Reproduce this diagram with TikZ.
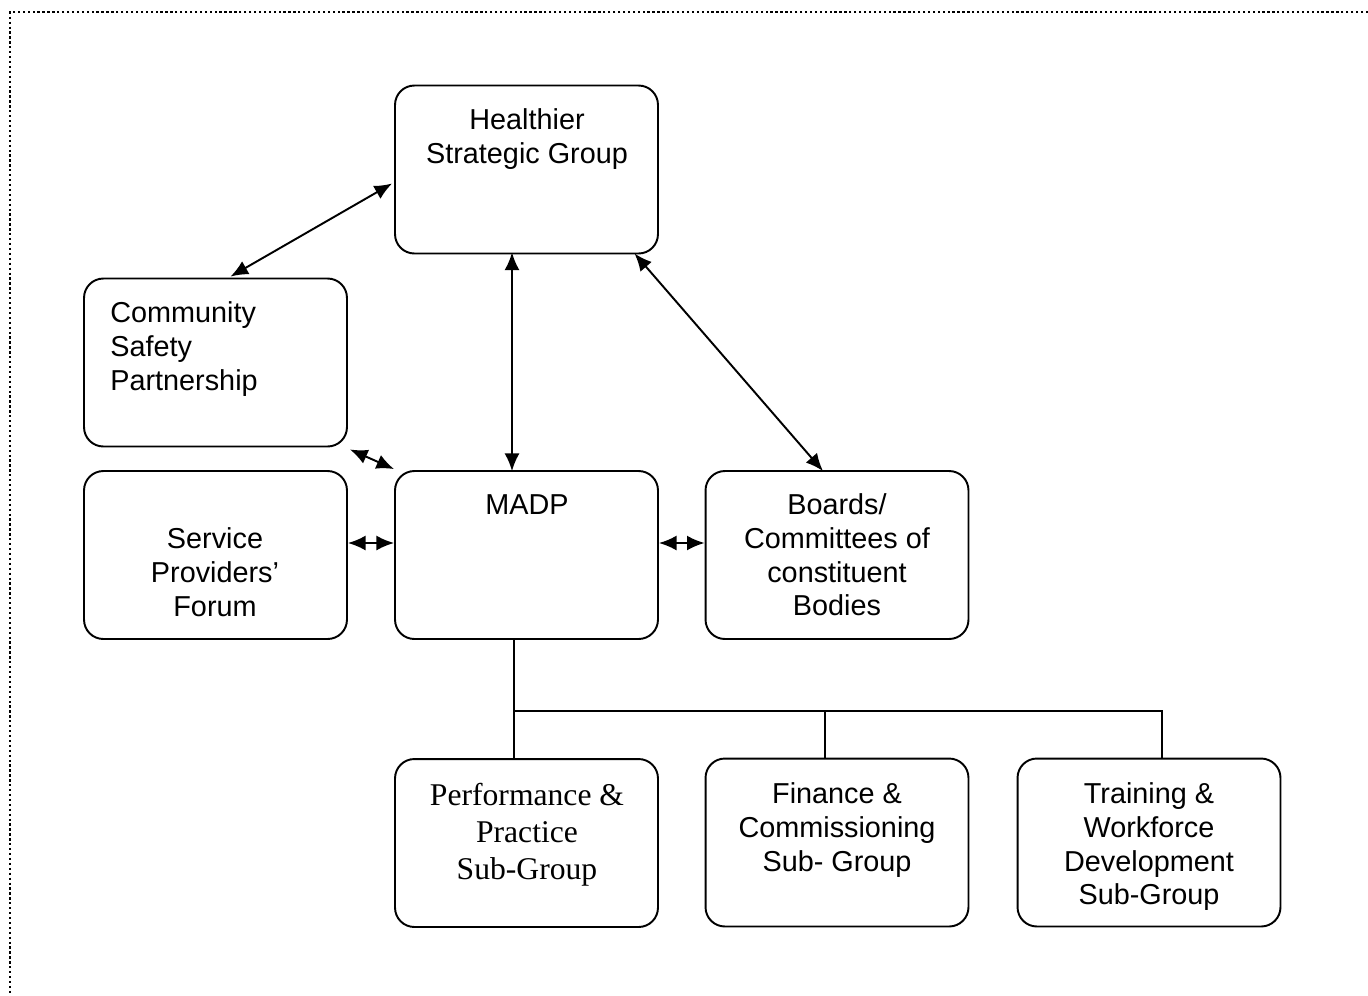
\documentclass[tikz,border=0pt]{standalone}
\usepackage{fontspec}
\setmainfont{Liberation Sans}
\newfontfamily\tnr{Liberation Serif}
\usetikzlibrary{arrows.meta,calc}
\tikzset{
  box/.style={draw, line width=1.1pt, rounded corners=11pt, minimum width=5.26cm, minimum height=3.36cm, inner sep=0pt},
  txt/.style={font=\fontsize{16.4}{19.3}\selectfont, align=center, inner sep=0pt, anchor=north},
  ttxt/.style={font=\tnr\fontsize{18}{21}\selectfont, align=center, inner sep=0pt, anchor=north},
  link/.style={line width=1.1pt, {Latex[length=10pt,width=8.5pt]}-{Latex[length=10pt,width=8.5pt]}},
  tree/.style={line width=1.1pt},
  frame/.style={line width=1.4pt, dash pattern=on 1.3pt off 1.5pt}
}
\begin{document}
\begin{tikzpicture}[x=0.02cm,y=-0.02cm]
\useasboundingbox (0,0) rectangle (1368,995);
\draw[frame] (1368,12) -- (10,12) -- (10,995);

\node[box] (hsg) at (526.5,169.5) {};
\node[box] (csp) at (215.5,362.5) {};
\node[box] (madp) at (526.5,555) {};
\node[box] (spf) at (215.5,555) {};
\node[box] (boards) at (837,555) {};
\node[box] (perf) at (526.5,843) {};
\node[box] (fin) at (837,842.5) {};
\node[box] (train) at (1149,842.5) {};

\node[txt] (thsg) at (527,108) {Healthier\\Strategic Group};
\node[txt, align=left, anchor=north west] (tcsp) at (110,301) {Community\\Safety\\Partnership};
\node[txt] (tmadp) at (527,494) {MADP};
\node[txt] (tspf) at (215,527) {Service\\Providers’\\Forum};
\node[txt] (tboards) at (837,493) {Boards/\\Committees of\\constituent\\Bodies};
\node[ttxt] (tperf) at (527,783) {Performance \&\\Practice\\Sub-Group};
\node[txt] (tfin) at (837,782) {Finance \&\\Commissioning\\Sub- Group};
\node[txt] (ttrain) at (1149,782) {Training \&\\Workforce\\Development\\Sub-Group};

\draw[link] ($(hsg.west)+(-2,14)$) -- ($(csp.north)+(15,-1)$);
\draw[link] ($(hsg.south)+(-14.5,-2)$) -- ($(madp.north)+(-14.5,1)$);
\draw[link] ($(hsg.south)+(108,-1)$) -- ($(boards.north)+(-14,1)$);
\draw[link] ($(csp.south east)+(2,2)$) -- ($(madp.north west)+(0,-1)$);
\draw[link] ($(spf.east)+(0,-12)$) -- ($(madp.west)+(0,-12)$);
\draw[link] ($(madp.east)+(0,-12)$) -- ($(boards.west)+(0,-12)$);

\coordinate (busL) at (514,711);
\coordinate (busR) at (1162,711);
\draw[tree] ($(madp.south)+(-12.5,0)$) -- ($(perf.north)+(-12.5,0)$);
\draw[tree] (busL) -- (busR) -- ($(train.north)+(13,0)$);
\draw[tree] ($(fin.north)+(-12,0)$) -- ($(fin.north)+(-12,-48)$);
\end{tikzpicture}
\end{document}
